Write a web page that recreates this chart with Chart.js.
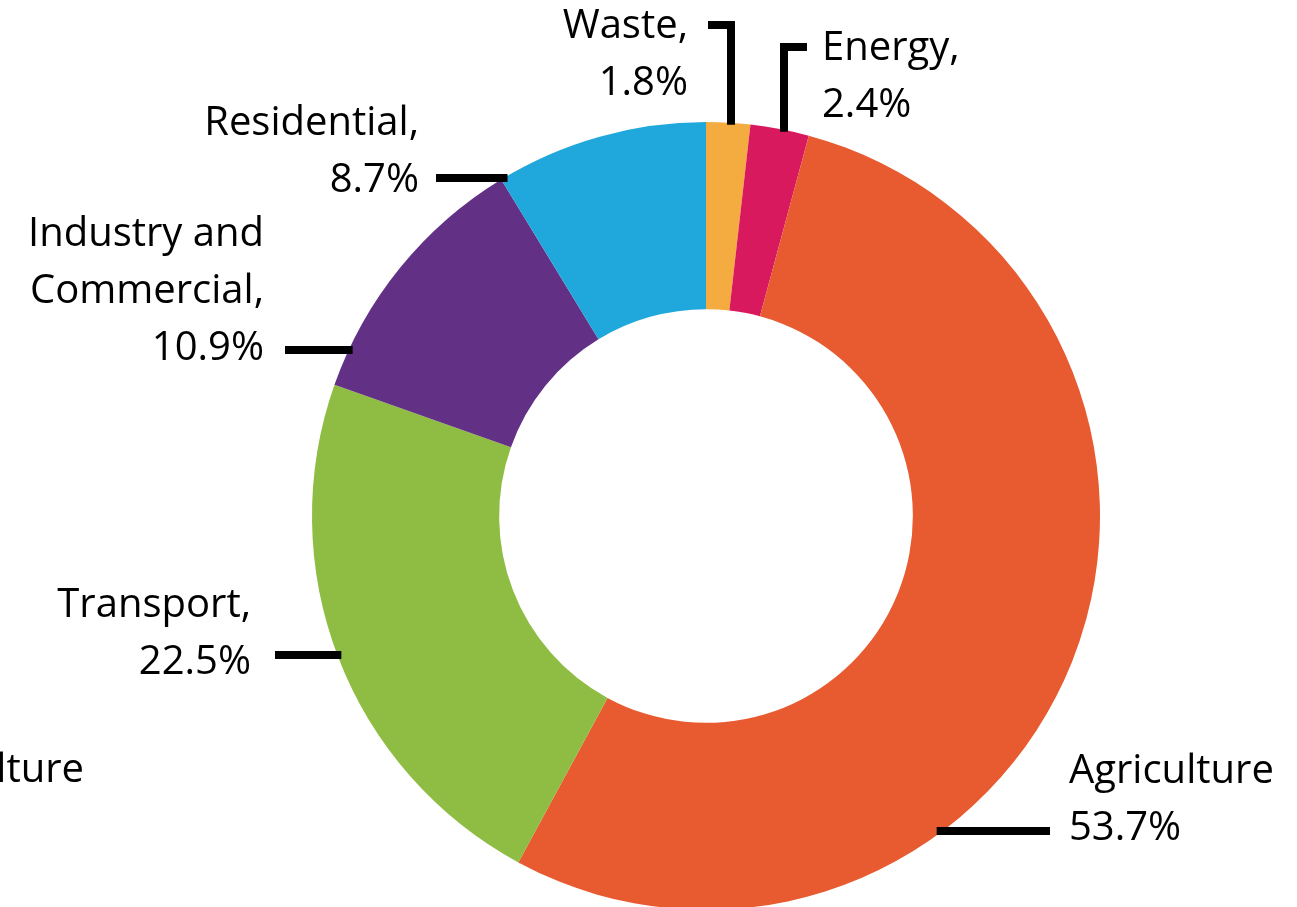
<!DOCTYPE html>
<html>
<head>
<meta charset="utf-8">
<script src="https://cdn.jsdelivr.net/npm/chart.js@4.4.1/dist/chart.umd.min.js"></script>
<style>
  html, body { margin: 0; padding: 0; background: #fff; overflow: hidden; }
  #wrap { width: 1297px; height: 915px; }
</style>
</head>
<body>
<div id="wrap"><canvas id="chart" width="1297" height="915"></canvas></div>
<script>
// sectors, clockwise from 12 o'clock
var sectors = ['Waste', 'Energy', 'Agriculture', 'Transport', 'Industry and Commercial', 'Residential'];
var shares = [1.8, 2.4, 53.7, 22.5, 10.9, 8.7];
var sectorColors = ['#F4AC41', '#D9195E', '#E85A30', '#8FBC43', '#623186', '#20A8DC'];

// label text lines
var labelLines = [
    ['Waste,', '1.8%'],
    ['Energy,', '2.4%'],
    ['Agriculture', '53.7%'],
    ['Transport,', '22.5%'],
    ['Industry and', 'Commercial,', '10.9%'],
    ['Residential,', '8.7%']
];

// where each label sits and how its leader reaches the ring
// kind 'h': horizontal leader at y, from x0 toward the ring
// kind 'v': elbow leader, horizontal stub at y then down to ring at x
var labelLayout = [
    {kind: 'v', x: 731, y: 25, stub: 708, tx: 688, ty: 38, align: 'right'},
    {kind: 'v', x: 784, y: 47, stub: 807, tx: 822, ty: 60, align: 'left'},
    {kind: 'h', y: 831, x0: 1050, tx: 1069, ty: 783, align: 'left'},
    {kind: 'h', y: 655, x0: 275, tx: 251, ty: 617, align: 'right'},
    {kind: 'h', y: 350, x0: 285, tx: 264, ty: 246, align: 'right'},
    {kind: 'h', y: 178, x0: 436, tx: 419, ty: 135, align: 'right'}
];

var FONT = '40px "Open Sans", "Liberation Sans", sans-serif';
var LINE_H = 57;

var leaderLabels = {
    id: 'leaderLabels',
    afterDraw: function(chart){
        var ctx = chart.ctx;
        var arc = chart.getDatasetMeta(0).data[0];
        var cx = arc.x, cy = arc.y, R = arc.outerRadius;
        ctx.save();
        ctx.strokeStyle = '#000';
        ctx.lineWidth = 8;
        ctx.lineCap = 'butt';
        ctx.lineJoin = 'miter';
        labelLayout.forEach(function(l, i){
            ctx.beginPath();
            if(l.kind == 'h'){
                var dx = Math.sqrt(Math.max(0, R*R - (l.y-cy)*(l.y-cy)));
                var xe = l.x0 < cx ? cx - dx + 4 : cx + dx - 6;
                ctx.moveTo(l.x0, l.y);
                ctx.lineTo(xe, l.y);
            } else {
                var dy = Math.sqrt(Math.max(0, R*R - (l.x-cx)*(l.x-cx)));
                ctx.moveTo(l.stub, l.y);
                ctx.lineTo(l.x, l.y);
                ctx.lineTo(l.x, cy - dy + 2);
            }
            ctx.stroke();

            ctx.fillStyle = '#000';
            ctx.font = FONT;
            ctx.textAlign = l.align;
            ctx.textBaseline = 'alphabetic';
            labelLines[i].forEach(function(t, k){
                ctx.fillText(t, l.tx, l.ty + k*LINE_H);
            });
        });
        // cut-off label of the neighbouring panel
        ctx.textAlign = 'right';
        ctx.fillText('Agriculture', 84, 782);
        ctx.restore();
    }
};

var chart = new Chart(document.getElementById('chart'), {
    type: 'doughnut',
    data: {
        labels: sectors,
        datasets: [{
            data: shares,
            backgroundColor: sectorColors,
            borderWidth: 0
        }]
    },
    options: {
        responsive: false,
        animation: false,
        cutout: '52.5%',
        layout: {
            padding: {left: 312, right: 197, top: 122, bottom: 5}
        },
        plugins: {
            legend: {display: false},
            tooltip: {enabled: false}
        }
    },
    plugins: [leaderLabels]
});
</script>
</body>
</html>
